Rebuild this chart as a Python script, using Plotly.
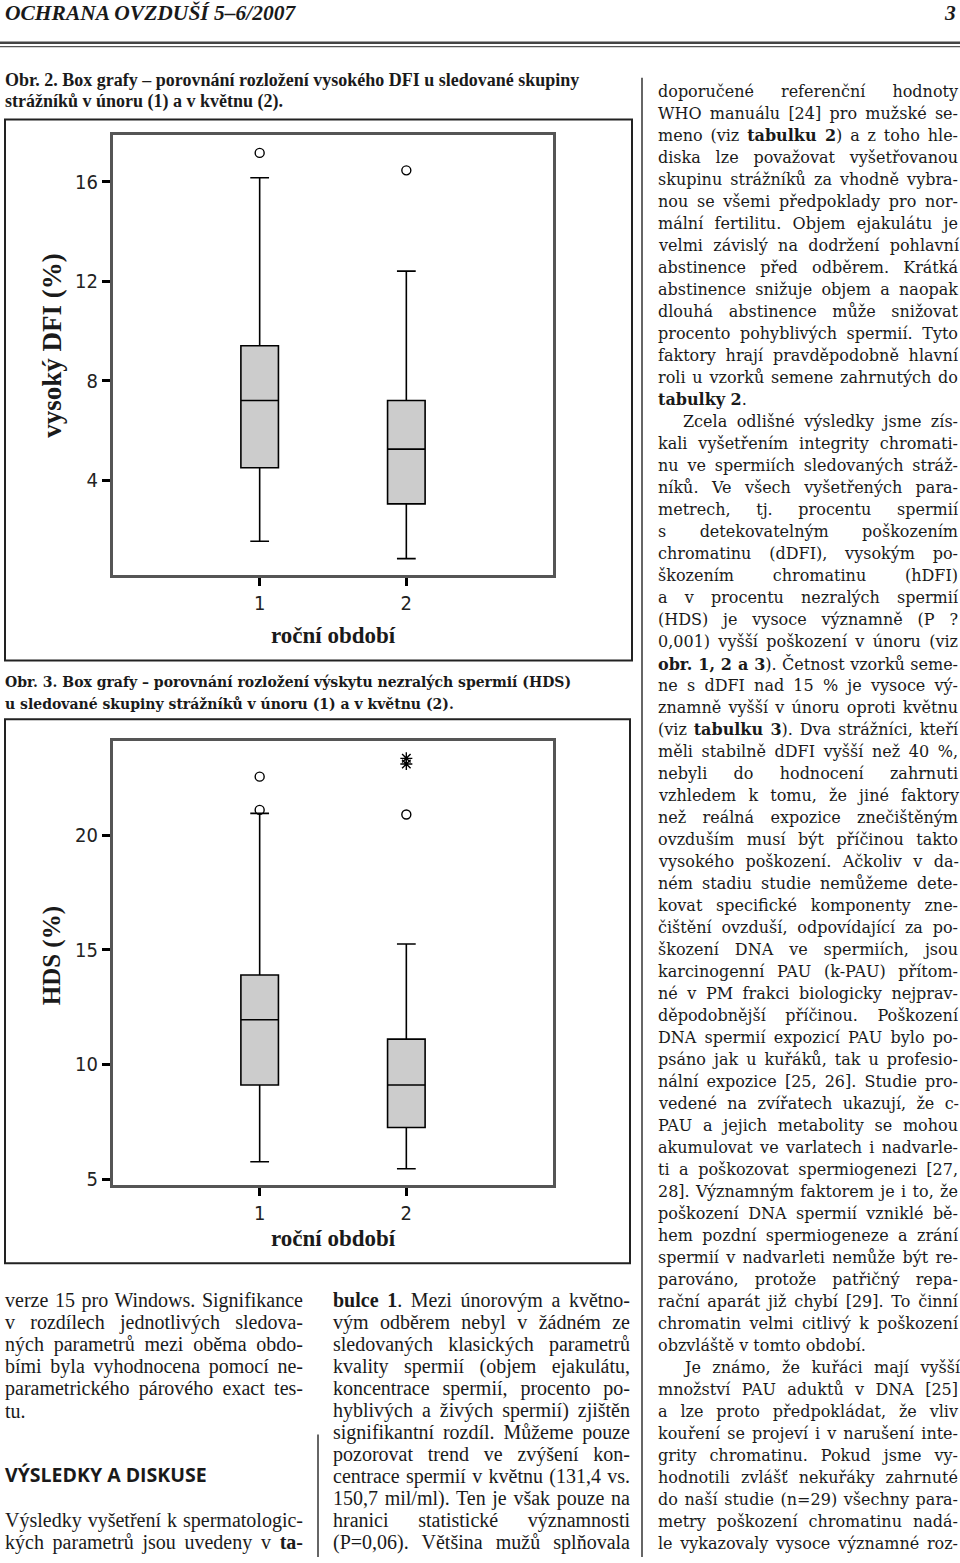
import json
import plotly.graph_objects as go

W, H = 960, 1563

# ---------------- data ----------------
categories = [1, 2]
tick_labels = ["1", "2"]

dfi_q1 = [4.5, 3.05]
dfi_median = [7.2, 5.25]
dfi_q3 = [9.4, 7.2]
dfi_lower = [1.55, 0.85]
dfi_upper = [16.15, 12.4]
dfi_outlier_x = [1, 2]
dfi_outlier_y = [17.15, 16.45]
dfi_ticks = [4, 8, 12, 16]

hds_q1 = [9.1, 7.25]
hds_median = [11.95, 9.1]
hds_q3 = [13.9, 11.1]
hds_lower = [5.75, 5.45]
hds_upper = [20.95, 15.25]
hds_outlier_x = [1, 1, 2]
hds_outlier_y = [22.55, 21.1, 20.9]
hds_extreme_x = [2, 2]
hds_extreme_y = [23.35, 23.1]
hds_ticks = [5, 10, 15, 20]

# ---------------- helpers ----------------
def px(x):
    return x / W

def py(y):
    return 1 - y / H

fig = go.Figure()

BOX_FILL = "#cccccc"
for (q1, med, q3, lo, hi, xa, ya) in [
    (dfi_q1, dfi_median, dfi_q3, dfi_lower, dfi_upper, "x", "y"),
    (hds_q1, hds_median, hds_q3, hds_lower, hds_upper, "x2", "y2"),
]:
    fig.add_trace(go.Box(
        x=categories, q1=q1, median=med, q3=q3, lowerfence=lo, upperfence=hi,
        width=0.256, whiskerwidth=0.5, fillcolor=BOX_FILL,
        line=dict(color="black", width=1.6), boxpoints=False,
        xaxis=xa, yaxis=ya, showlegend=False, hoverinfo="skip"))

fig.add_trace(go.Scatter(x=dfi_outlier_x, y=dfi_outlier_y, mode="markers",
    marker=dict(symbol="circle-open", size=9, color="black", line=dict(width=1.4)),
    xaxis="x", yaxis="y", showlegend=False))
fig.add_trace(go.Scatter(x=hds_outlier_x, y=hds_outlier_y, mode="markers",
    marker=dict(symbol="circle-open", size=9, color="black", line=dict(width=1.4)),
    xaxis="x2", yaxis="y2", showlegend=False))
fig.add_trace(go.Scatter(x=hds_extreme_x, y=hds_extreme_y, mode="markers",
    marker=dict(symbol="asterisk-open", size=10, color="black", line=dict(width=1.4)),
    xaxis="x2", yaxis="y2", showlegend=False))

NARROW = "Liberation Sans Narrow, DejaVu Sans Condensed, Liberation Sans"
TICKFONT = dict(family=NARROW, size=20, color="#222")
axis_common = dict(showline=True, mirror=True, linecolor="#555555", linewidth=3,
                   showgrid=False, zeroline=False, ticks="outside", ticklen=8,
                   tickwidth=3, tickcolor="black", tickfont=TICKFONT)

x_dom = [px(113), px(553)]
fig.update_layout(
    xaxis=dict(domain=x_dom, range=[0, 3], tickvals=categories, ticktext=tick_labels,
               anchor="y", ticklabelstandoff=0, **axis_common),
    yaxis=dict(domain=[py(577), py(136)], range=[0.2, 17.85], tickvals=dfi_ticks,
               anchor="x", **axis_common),
    xaxis2=dict(domain=x_dom, range=[0, 3], tickvals=categories, ticktext=tick_labels,
                anchor="y2", ticklabelstandoff=0, **axis_common),
    yaxis2=dict(domain=[py(1190), py(744)], range=[4.72, 24.1], tickvals=hds_ticks,
                anchor="x2", **axis_common),
    width=W, height=H, margin=dict(l=0, r=0, t=0, b=0),
    paper_bgcolor="white", plot_bgcolor="white", showlegend=False,
)

# frames and rules
shapes = []
def rect(x0, y0, x1, y1, w=2, c="#222"):
    shapes.append(dict(type="rect", xref="paper", yref="paper", x0=px(x0), x1=px(x1),
                       y0=py(y1), y1=py(y0), line=dict(color=c, width=w)))
def line(x0, y0, x1, y1, w=1.5, c="#333"):
    shapes.append(dict(type="line", xref="paper", yref="paper", x0=px(x0), x1=px(x1),
                       y0=py(y0), y1=py(y1), line=dict(color=c, width=w)))
rect(5, 120, 632, 663)
rect(5, 722, 630, 1268)
line(0, 43, 960, 43, w=2.5, c="#444")
line(0, 46.8, 960, 46.8, w=1.2, c="#555")
line(642, 78, 642, 1563, w=1.5)
line(318, 1440, 318, 1563, w=1.5)
fig.update_layout(shapes=shapes)

anns = []
justify = {}
def txt(x, y, s, size, family, color="#1a1a1a", xanchor="left", angle=0, jw=None):
    if xanchor == "left":
        x = x - 2
    if jw is not None:
        justify[str(len(anns))] = jw
    anns.append(dict(x=px(x), y=py(y), xref="paper", yref="paper", text=s,
                     showarrow=False, xanchor=xanchor, yanchor="middle",
                     align="left" if xanchor == "left" else "center",
                     font=dict(size=size, family=family, color=color), textangle=angle))

SERIF_N = "Liberation Serif"
SERIF_W = "DejaVu Serif"

# header
txt(5, 13, "<b><i>OCHRANA OVZDUŠÍ 5–6/2007</i></b>", 21.5, SERIF_N)
txt(958, 13, "<b><i>3</i></b>", 21.5, SERIF_N, xanchor="right")

# captions
txt(5, 80, "<b>Obr. 2. Box grafy – porovnání rozložení vysokého DFI u sledované skupiny</b>", 18, SERIF_N)
txt(5, 102, "<b>strážníků v únoru (1) a v květnu (2).</b>", 18, SERIF_N)
txt(5, 685, "<b>Obr. 3. Box grafy – porovnání rozložení výskytu nezralých spermií (HDS)</b>", 14, SERIF_W)
txt(5, 707, "<b>u sledované skupiny strážníků v únoru (1) a v květnu (2).</b>", 14, SERIF_W)

# axis titles
txt(333, 638, "<b>roční období</b>", 23, SERIF_N, xanchor="center")
txt(333, 1243, "<b>roční období</b>", 23, SERIF_N, xanchor="center")
txt(52, 347, "<b>vysoký DFI (%)</b>", 27, SERIF_N, xanchor="center", angle=-90)
txt(52, 960, "<b>HDS (%)</b>", 25, SERIF_N, xanchor="center", angle=-90)

# right column ("\t" = paragraph indent, trailing "|" = last line of paragraph)
right_lines = [
    "doporučené referenční hodnoty",
    "WHO manuálu [24] pro mužské se-",
    "meno (viz <b>tabulku 2</b>) a z toho hle-",
    "diska lze považovat vyšetřovanou",
    "skupinu strážníků za vhodně vybra-",
    "nou se všemi předpoklady pro nor-",
    "mální fertilitu. Objem ejakulátu je",
    "velmi závislý na dodržení pohlavní",
    "abstinence před odběrem. Krátká",
    "abstinence snižuje objem a naopak",
    "dlouhá abstinence může snižovat",
    "procento pohyblivých spermií. Tyto",
    "faktory hrají pravděpodobně hlavní",
    "roli u vzorků semene zahrnutých do",
    "<b>tabulky 2</b>.|",
    "\tZcela odlišné výsledky jsme zís-",
    "kali vyšetřením integrity chromati-",
    "nu ve spermiích sledovaných stráž-",
    "níků. Ve všech vyšetřených para-",
    "metrech, tj. procentu spermií",
    "s detekovatelným poškozením",
    "chromatinu (dDFI), vysokým po-",
    "škozením chromatinu (hDFI)",
    "a v procentu nezralých spermií",
    "(HDS) je vysoce významně (P ?",
    "0,001) vyšší poškození v únoru (viz",
    "<b>obr. 1, 2 a 3</b>). Četnost vzorků seme-",
    "ne s dDFI nad 15 % je vysoce vý-",
    "znamně vyšší v únoru oproti květnu",
    "(viz <b>tabulku 3</b>). Dva strážníci, kteří",
    "měli stabilně dDFI vyšší než 40 %,",
    "nebyli do hodnocení zahrnuti",
    "vzhledem k tomu, že jiné faktory",
    "než reálná expozice znečištěným",
    "ovzduším musí být příčinou takto",
    "vysokého poškození. Ačkoliv v da-",
    "ném stadiu studie nemůžeme dete-",
    "kovat specifické komponenty zne-",
    "čištění ovzduší, odpovídající za po-",
    "škození DNA ve spermiích, jsou",
    "karcinogenní PAU (k-PAU) přítom-",
    "né v PM frakci biologicky nejprav-",
    "děpodobnější příčinou. Poškození",
    "DNA spermií expozicí PAU bylo po-",
    "psáno jak u kuřáků, tak u profesio-",
    "nální expozice [25, 26]. Studie pro-",
    "vedené na zvířatech ukazují, že c-",
    "PAU a jejich metabolity se mohou",
    "akumulovat ve varlatech i nadvarle-",
    "ti a poškozovat spermiogenezi [27,",
    "28]. Významným faktorem je i to, že",
    "poškození DNA spermií vzniklé bě-",
    "hem pozdní spermiogeneze a zrání",
    "spermií v nadvarleti nemůže být re-",
    "parováno, protože patřičný repa-",
    "rační aparát již chybí [29]. To činní",
    "chromatin velmi citlivý k poškození",
    "obzvláště v tomto období.|",
    "\tJe známo, že kuřáci mají vyšší",
    "množství PAU aduktů v DNA [25]",
    "a lze proto předpokládat, že vliv",
    "kouření se projeví i v narušení inte-",
    "grity chromatinu. Pokud jsme vy-",
    "hodnotili zvlášť nekuřáky zahrnuté",
    "do naší studie (n=29) všechny para-",
    "metry poškození chromatinu nadá-",
    "le vykazovaly vysoce významné roz-",
]

def column(lines, x0, x1, y0, step, size, family, indent=25):
    for i, s in enumerate(lines):
        x = x0
        if s.startswith("\t"):
            s = s[1:]
            x = x0 + indent
        jw = x1 - x
        if s.endswith("|"):
            s = s[:-1]
            jw = None
        txt(x, y0 + i * step, s, size, family, jw=jw)

column(right_lines, 658, 958, 92, 22.08, 16, SERIF_W)

left_lines = [
    "verze 15 pro Windows. Signifikance",
    "v rozdílech jednotlivých sledova-",
    "ných parametrů mezi oběma obdo-",
    "bími byla vyhodnocena pomocí ne-",
    "parametrického párového exact tes-",
    "tu.|",
]
column(left_lines, 5, 303, 1306, 22.0, 20, SERIF_N)

txt(5, 1480, "<b>VÝSLEDKY A DISKUSE</b>", 19.5, "Open Sans")
column(["Výsledky vyšetření k spermatologic-",
        "kých parametrů jsou uvedeny v <b>ta-</b>"], 5, 303, 1526, 22.0, 20, SERIF_N)

mid_lines = [
    "<b>bulce 1</b>. Mezi únorovým a květno-",
    "vým odběrem nebyl v žádném ze",
    "sledovaných klasických parametrů",
    "kvality spermií (objem ejakulátu,",
    "koncentrace spermií, procento po-",
    "hyblivých a živých spermií) zjištěn",
    "signifikantní rozdíl. Můžeme pouze",
    "pozorovat trend ve zvýšení kon-",
    "centrace spermií v květnu (131,4 vs.",
    "150,7 mil/ml). Ten je však pouze na",
    "hranici statistické významnosti",
    "(P=0,06). Většina mužů splňovala",
]
column(mid_lines, 333, 630, 1306, 22.0, 20, SERIF_N)

fig.update_layout(annotations=anns)

post = """
try { document.body.style.margin = '0'; } catch (e) {}
try {
  var gd = document.getElementById('{plot_id}');
  var J = %s;
  gd.querySelectorAll('g.annotation').forEach(function (g) {
    var idx = g.getAttribute('data-index');
    if (!(idx in J)) return;
    var t = g.querySelector('text.annotation-text');
    if (!t) return;
    var n = (t.textContent.match(/[ \\u00a0]/g) || []).length;
    if (!n) return;
    var w = t.getComputedTextLength();
    var ws = (J[idx] - w) / n;
    t.setAttribute('word-spacing', ws + 'px');
    t.style.wordSpacing = ws + 'px';
  });
} catch (e) {}
""" % json.dumps(justify)

fig.write_html("out.html", post_script=post, config={"displayModeBar": False})
